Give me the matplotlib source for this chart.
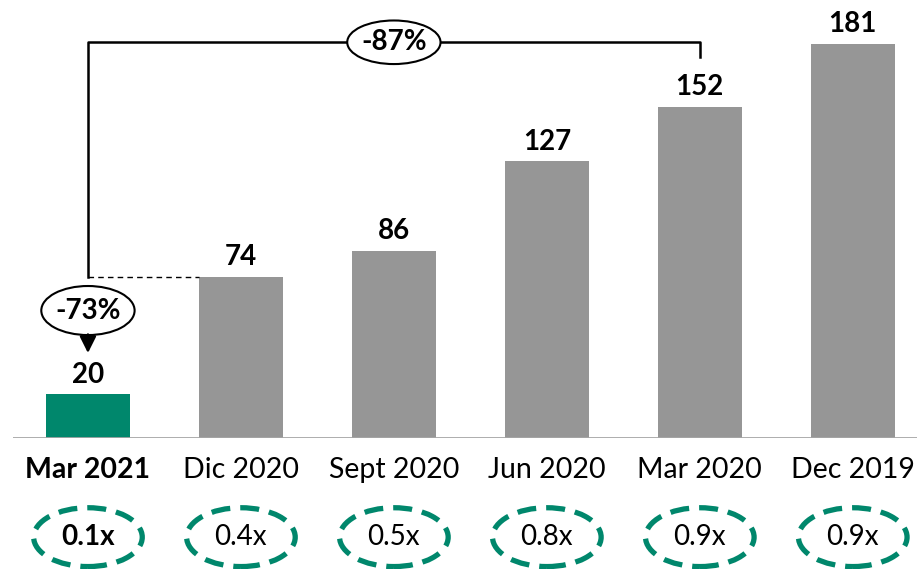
import matplotlib.pyplot as plt
from matplotlib.patches import Ellipse

plt.rcParams['font.family'] = ['Lato', 'DejaVu Sans']

periods = ['Mar 2021', 'Dic 2020', 'Sept 2020', 'Jun 2020', 'Mar 2020', 'Dec 2019']
values = [20, 74, 86, 127, 152, 181]
multiples = ['0.1x', '0.4x', '0.5x', '0.8x', '0.9x', '0.9x']
change_vs_dic = '-73%'
change_vs_mar = '-87%'

green = '#00876c'
grey = '#969696'

fig = plt.figure(figsize=(9.17, 5.69), dpi=100)
# axes spans from the baseline to the top edge of the figure
ax = fig.add_axes([13 / 917, 131 / 569, 904 / 917, 438 / 569])
ax.set_xlim(-0.49, 5.42)
ax.set_ylim(0, 201)
ax.axis('off')

x = list(range(len(values)))
colors = [green] + [grey] * (len(values) - 1)
ax.bar(x, values, width=0.55, color=colors, zorder=2)
ax.axhline(0, color='#a6a6a6', lw=2, zorder=3)

for i, v in enumerate(values):
    ax.text(i, v + 9, str(v), ha='center', va='center', fontsize=20,
            fontweight='bold')

for i, (p, m) in enumerate(zip(periods, multiples)):
    w = 'bold' if i == 0 else 'normal'
    ax.text(i, -14.5, p, ha='center', va='center', fontsize=20.5, fontweight=w,
            clip_on=False)
    ax.add_patch(Ellipse((i, -45.5), 0.71, 27, fill=False, ec=green, lw=3.8,
                         ls=(0, (3.6, 1.9)), clip_on=False))
    ax.text(i, -45.5, m, ha='center', va='center', fontsize=20, fontweight=w,
            clip_on=False)

# bracket from Mar 2021 to Mar 2020
top = 181.6
ax.plot([0, 0, 4, 4], [values[1], top, top, 175], color='black', lw=1.8,
        clip_on=False, zorder=4)
ax.add_patch(Ellipse((2.0, top), 0.61, 20, fc='white', ec='black', lw=1.5,
                     zorder=5, clip_on=False))
ax.text(2.0, top, change_vs_mar, ha='center', va='center', fontsize=20,
        fontweight='bold', zorder=6)

# drop from Dic 2020 to Mar 2021
ax.plot([0, 1 - 0.275], [values[1], values[1]], color='black', lw=1,
        ls=(0, (4, 3)), zorder=4)
ax.add_patch(Ellipse((0, 58.5), 0.61, 22.5, fc='white', ec='black', lw=1.5,
                     zorder=5))
ax.text(0, 58.5, change_vs_dic, ha='center', va='center', fontsize=20,
        fontweight='bold', zorder=6)
ax.annotate('', xy=(0, 39), xytext=(0, 47.5),
            arrowprops=dict(arrowstyle='-|>', color='black', lw=1.8,
                            mutation_scale=25, shrinkA=0, shrinkB=0), zorder=6)

fig.savefig('out.png', dpi=100)
